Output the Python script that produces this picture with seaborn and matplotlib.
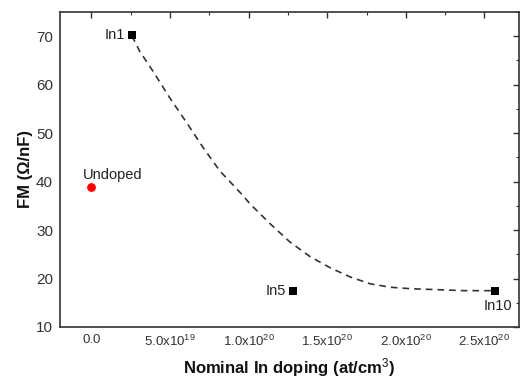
import matplotlib
matplotlib.use("Agg")
import matplotlib.pyplot as plt
import seaborn as sns
import pandas as pd
import math
from matplotlib.ticker import MultipleLocator, FuncFormatter

sns.set_theme(style="white")
plt.rcParams['font.family'] = ['Liberation Sans', 'DejaVu Sans']
plt.rcParams['mathtext.fontset'] = 'custom'
plt.rcParams['mathtext.rm'] = 'Liberation Sans'
plt.rcParams['mathtext.it'] = 'Liberation Sans:italic'
plt.rcParams['mathtext.bf'] = 'Liberation Sans:bold'

# Data
sample_labels = ["In1", "In5", "In10"]
doped_x = [2.57e19, 1.28e20, 2.57e20]
doped_fm = [70.2, 17.5, 17.4]
undoped_label = "Undoped"
undoped_x = [0.0]
undoped_fm = [38.8]

# dashed guide curve
guide_x = [0.257e20, 0.307e20, 0.391e20, 0.498e20, 0.605e20, 0.711e20, 0.817e20,
           0.956e20, 1.009e20, 1.137e20, 1.264e20, 1.392e20, 1.520e20, 1.648e20,
           1.775e20, 1.903e20, 2.031e20, 2.201e20, 2.369e20, 2.542e20, 2.57e20]
guide_fm = [70.1, 66.9, 62.8, 57.3, 52.2, 47.0, 42.2, 37.4, 35.4, 31.3, 27.5,
            24.5, 22.2, 20.3, 18.9, 18.2, 17.9, 17.7, 17.5, 17.5, 17.4]

fig = plt.figure(figsize=(5.2, 3.79), dpi=100)
ax = fig.add_axes([60/520, 1-327/379, (519-60)/520, (327-12)/379])

guide = pd.DataFrame({"x": guide_x, "y": guide_fm})
sns.lineplot(data=guide, x="x", y="y", ax=ax, color="#333333", lw=1.2,
             linestyle=(0, (4, 3)), sort=False)

doped = pd.DataFrame({"x": doped_x, "y": doped_fm, "s": sample_labels})
sns.scatterplot(data=doped, x="x", y="y", ax=ax, marker="s", color="black",
                s=36, edgecolor="black", linewidth=0, zorder=5)
und = pd.DataFrame({"x": undoped_x, "y": undoped_fm})
sns.scatterplot(data=und, x="x", y="y", ax=ax, marker="o", color="#ff0000",
                s=40, edgecolor="#ff0000", linewidth=0, zorder=5)

txt_kw = dict(fontsize=10.5, color="#222222")
ax.annotate(sample_labels[0], (doped_x[0], doped_fm[0]), xytext=(-5, 0),
            textcoords="offset points", ha="right", va="center", **txt_kw)
ax.annotate(sample_labels[1], (doped_x[1], doped_fm[1]), xytext=(-5, 0),
            textcoords="offset points", ha="right", va="center", **txt_kw)
ax.annotate(sample_labels[2], (doped_x[2], doped_fm[2]), xytext=(2, -6),
            textcoords="offset points", ha="center", va="top", **txt_kw)
ax.annotate(undoped_label, (undoped_x[0], undoped_fm[0]), xytext=(15, 4),
            textcoords="offset points", ha="center", va="bottom", **txt_kw)

ax.set_xlim(-2.0e19, 2.72e20)
ax.set_ylim(10, 75)
ax.xaxis.set_major_locator(MultipleLocator(5e19))
ax.xaxis.set_minor_locator(MultipleLocator(2.5e19))
ax.yaxis.set_major_locator(MultipleLocator(10))
ax.yaxis.set_minor_locator(MultipleLocator(5))

def xfmt(v, pos):
    if abs(v) < 1e10:
        return "0.0"
    e = int(math.floor(math.log10(abs(v)) + 1e-9))
    m = v / 10**e
    return f"{m:.1f}x10$^{{{e}}}$"

ax.xaxis.set_major_formatter(FuncFormatter(xfmt))
ax.yaxis.set_major_formatter(FuncFormatter(lambda v, p: f"{v:.0f}"))

for sp in ax.spines.values():
    sp.set_color("#333333")
    sp.set_linewidth(1.2)
ax.tick_params(which="both", direction="in", top=True, right=True,
               color="#333333", labelcolor="#333333")
ax.tick_params(axis="y", labelsize=11)
ax.tick_params(axis="x", labelsize=9.5)
ax.tick_params(which="major", length=4, width=1.0, pad=5)
ax.tick_params(which="minor", length=2.5, width=0.8)

ax.set_xlabel("Nominal In doping (at/cm$^3$)", fontsize=12, fontweight="bold",
              color="#111111", labelpad=5)
ax.set_ylabel("FM (\u03a9/nF)", fontsize=12, fontweight="bold", color="#111111",
              labelpad=2)

fig.savefig("out.png", dpi=100)
